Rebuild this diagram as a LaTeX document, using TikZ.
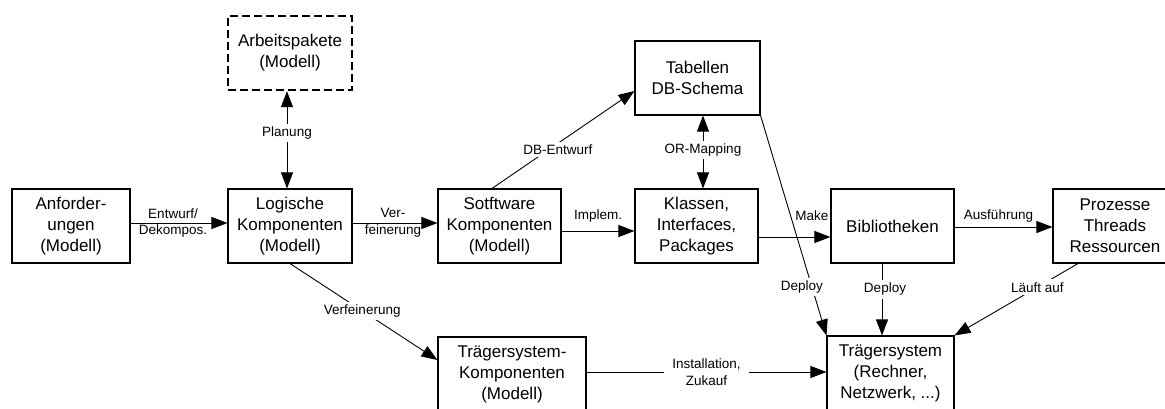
\documentclass[tikz,border=0pt]{standalone}
\usepackage{fontspec}
\setmainfont{Liberation Sans}
\usetikzlibrary{arrows.meta}
\begin{document}
\begin{tikzpicture}[x=1pt,y=-1pt,
  box/.style={draw, line width=1.1pt, minimum height=74pt, inner sep=0pt,
    align=center, font=\fontsize{17}{21}\selectfont},
  planbox/.style={box, line width=2.4pt, dash pattern=on 8pt off 4pt},
  conn/.style={line width=0.9pt, -{Triangle[length=16pt,width=12pt]}},
  both/.style={line width=0.9pt,
    {Triangle[length=16pt,width=12pt]}-{Triangle[length=16pt,width=12pt]}},
  lbl/.style={font=\fontsize{13.5}{16.5}\selectfont, align=center, inner sep=1pt},
  gap/.style={lbl, fill=white, inner xsep=8pt, inner ysep=3pt}]

\useasboundingbox (0,0) rectangle (1165,408);
\clip (0,0) rectangle (1165,408);

% models and artefacts
\node[box, minimum width=118pt] (anf) at (71,226) {Anforder-\\ungen\\(Modell)};
\node[box, minimum width=124pt] (log) at (290,226) {Logische\\Komponenten\\(Modell)};
\node[planbox, minimum width=124pt] (arb) at (290,53) {Arbeitspakete\\(Modell)};
\node[box, minimum width=123pt] (soft) at (499.5,226) {Sotftware\\Komponenten\\(Modell)};
\node[box, minimum width=125pt] (tab) at (697.5,78) {Tabellen\\DB-Schema};
\node[box, minimum width=123pt] (kla) at (696.5,226) {Klassen,\\Interfaces,\\Packages};
\node[box, minimum width=123pt] (bib) at (892.5,226) {Bibliotheken};
\node[box, minimum width=124pt] (proz) at (1115,226) {Prozesse\\Threads\\Ressourcen};
\node[box, minimum width=148pt] (tsk) at (512,374) {Trägersystem-\\Komponenten\\(Modell)};
\node[box, minimum width=127pt] (ts) at (890.5,373) {Trägersystem\\(Rechner,\\Netzwerk, ...)};

% transitions
\draw[conn] ([yshift=3pt]anf.east) -- ([yshift=3pt]log.west)
  node[lbl, midway, xshift=-6pt] {Entwurf/\\Dekompos.};
\draw[conn] ([yshift=3pt]log.east) -- ([yshift=3pt]soft.west)
  node[lbl, midway, xshift=-2pt] {Ver-\\feinerung};
\draw[both] ([xshift=-3pt]arb.south) -- ([xshift=-3pt]log.north)
  node[gap, pos=0.43] {Planung};
\draw[conn] (log.south) -- ([yshift=14pt]tsk.west)
  node[gap, pos=0.49] {Verfeinerung};
\draw[conn] ([xshift=-7.5pt]soft.north) -- ([yshift=-13pt]tab.west)
  node[gap, pos=0.4, xshift=9pt] {DB-Entwurf};
\draw[conn] ([yshift=-5pt]soft.east) -- ([yshift=-5pt]kla.west)
  node[lbl, midway, yshift=15pt] {Implem.};
\draw[both] ([xshift=5.5pt]tab.south) -- ([xshift=6.5pt]kla.north)
  node[gap, pos=0.47] {OR-Mapping};
\draw[conn] ([yshift=-11pt]kla.east) -- ([yshift=-11pt]bib.west)
  node[lbl, pos=0.74, yshift=21pt] {Make};
\draw[conn] ([yshift=-1pt]bib.east) -- ([yshift=-1pt]proz.west)
  node[lbl, midway, yshift=11pt, xshift=-5pt] {Ausführung};
\draw[conn] (tab.south east) -- (ts.north west)
  node[gap, pos=0.78, xshift=-10pt] {Deploy};
\draw[conn] ([xshift=-10.5pt]bib.south) -- ([xshift=-8.5pt]ts.north)
  node[gap, pos=0.36, xshift=3pt] {Deploy};
\draw[conn] ([xshift=-37pt]proz.south) -- (ts.north east)
  node[gap, pos=0.33] {Läuft auf};
\draw[conn] ([yshift=2pt]tsk.east) -- ([yshift=1pt]ts.west)
  node[gap, midway] {Installation,\\Zukauf};
\end{tikzpicture}
\end{document}
